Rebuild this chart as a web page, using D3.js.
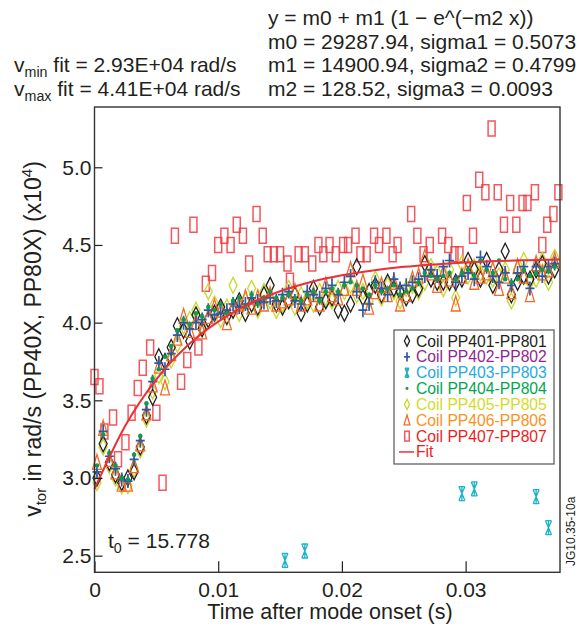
<!DOCTYPE html>
<html>
<head>
<meta charset="utf-8">
<script src="https://cdn.jsdelivr.net/npm/d3@7"></script>
<style>
  body { margin: 0; background: #fff; }
  text { font-family: "Liberation Sans", Arial, sans-serif; fill: #231f20; }
</style>
</head>
<body>
<div id="chart"></div>
<script>
// sample times shared by coils 401-406 (s)
var times = [0.0002,0.0007,0.0012,0.0017,0.0022,0.0027,0.0032,0.0037,0.0042,0.0047,
             0.0052,0.0057,0.0062,0.0067,0.0072,0.0077,0.0082,0.0087,0.0092,0.0097,
             0.0102,0.0107,0.0112,0.0117,0.0122,0.0127,0.0132,0.0137,0.0142,0.0147,
             0.0152,0.0157,0.0162,0.0167,0.0172,0.0177,0.0182,0.0187,0.0192,0.0197,
             0.0202,0.0207,0.0212,0.0217,0.0222,0.0227,0.0232,0.0237,0.0242,0.0247,
             0.0252,0.0257,0.0262,0.0267,0.0272,0.0277,0.0282,0.0287,0.0292,0.0297,
             0.0302,0.0307,0.0312,0.0317,0.0322,0.0327,0.0332,0.0337,0.0342,0.0347,
             0.0352,0.0357,0.0362,0.0367,0.0372];

// v_tor (x10^4 rad/s)
var coil401 = [3.00,3.22,3.10,3.02,2.97,3.00,3.04,3.20,3.40,3.52,3.78,3.75,3.84,3.98,3.95,3.88,4.05,3.96,4.02,4.06,
               4.10,4.04,4.08,4.14,4.06,4.12,4.10,4.18,4.24,4.12,4.10,4.14,4.18,4.06,4.12,4.22,4.10,4.14,4.16,4.08,
               4.06,4.12,4.36,4.16,4.20,4.24,4.18,4.26,4.22,4.20,4.16,4.18,4.22,4.38,4.28,4.26,4.26,4.26,4.26,4.28,
               4.40,4.34,4.28,4.40,4.24,4.34,4.46,4.18,4.26,4.30,4.28,4.34,4.38,4.30,4.34];
var coil402 = [3.04,3.30,3.14,3.06,2.99,2.98,3.12,3.24,3.44,3.62,3.74,3.70,3.80,3.92,4.00,3.96,4.00,4.02,4.08,4.05,
               4.06,4.08,4.12,4.10,4.12,4.16,4.14,4.13,4.16,4.14,4.18,4.20,4.14,4.12,4.20,4.18,4.16,4.22,4.24,4.18,
               4.26,4.30,4.20,4.08,4.12,4.26,4.22,4.18,4.28,4.22,4.24,4.26,4.28,4.30,4.34,4.30,4.36,4.40,4.26,4.30,
               4.32,4.28,4.42,4.36,4.30,4.26,4.32,4.24,4.32,4.36,4.22,4.36,4.30,4.36,4.38];
var coil404 = [3.08,3.28,3.16,3.08,3.00,2.99,3.15,3.27,3.48,3.64,3.70,3.78,3.85,3.95,4.02,3.99,4.06,4.04,4.10,4.08,
               4.12,4.06,4.14,4.16,4.10,4.18,4.12,4.16,4.20,4.16,4.16,4.18,4.16,4.14,4.18,4.20,4.14,4.20,4.22,4.20,
               4.24,4.26,4.24,4.22,4.18,4.24,4.20,4.22,4.24,4.18,4.20,4.22,4.26,4.32,4.30,4.28,4.30,4.32,4.28,4.32,
               4.34,4.30,4.40,4.34,4.32,4.40,4.28,4.26,4.28,4.34,4.30,4.32,4.34,4.33,4.36];
var coil405 = [2.97,3.20,3.08,3.00,2.95,2.95,3.06,3.18,3.38,3.56,3.66,3.62,3.76,3.86,3.98,4.02,4.08,3.98,4.20,4.12,
               4.02,4.10,4.24,4.06,4.14,4.22,4.08,4.20,4.14,4.08,4.12,4.22,4.10,4.18,4.14,4.12,4.20,4.16,4.14,4.22,
               4.20,4.24,4.18,4.20,4.14,4.28,4.16,4.24,4.20,4.14,4.22,4.24,4.20,4.26,4.36,4.32,4.22,4.34,4.16,4.38,
               4.30,4.36,4.32,4.30,4.28,4.30,4.34,4.14,4.34,4.40,4.26,4.28,4.40,4.26,4.42];
var coil406 = [3.10,3.32,3.12,3.04,2.96,2.96,3.08,3.22,3.42,3.60,3.72,3.58,3.80,3.90,4.04,3.95,4.00,3.94,4.04,4.10,
               4.08,4.00,4.10,4.12,4.16,4.10,4.16,4.12,4.18,4.12,4.14,4.16,4.20,4.12,4.16,4.18,4.12,4.24,4.18,4.16,
               4.22,4.34,4.22,4.26,4.10,4.20,4.24,4.18,4.26,4.12,4.18,4.28,4.30,4.42,4.32,4.24,4.32,4.28,4.12,4.30,
               4.36,4.26,4.30,4.32,4.34,4.22,4.30,4.20,4.36,4.30,4.18,4.38,4.32,4.34,4.40];

// coil 403 mostly falls below the axis, only these are visible
var coil403Times  = [0.0154,0.0170,0.0297,0.0307,0.0357,0.0367];
var coil403Values = [2.47,2.53,2.90,2.93,2.88,2.68];

var coil407Times = [0.0000,0.0004,0.0008,0.0015,0.0019,0.0025,0.0030,0.0035,0.0039,0.0045,
                    0.0050,0.0055,0.0065,0.0070,0.0075,0.0080,0.0084,0.0090,0.0095,0.0100,
                    0.0105,0.0110,0.0115,0.0120,0.0125,0.0131,0.0136,0.0140,0.0145,0.0150,
                    0.0156,0.0158,0.0165,0.0170,0.0176,0.0181,0.0185,0.0190,0.0195,0.0201,
                    0.0205,0.0211,0.0215,0.0220,0.0226,0.0230,0.0236,0.0241,0.0245,0.0256,
                    0.0261,0.0266,0.0271,0.0281,0.0286,0.0291,0.0295,0.0301,0.0306,0.0311,
                    0.0316,0.0321,0.0326,0.0331,0.0336,0.0341,0.0346,0.0350,0.0356,0.0362,
                    0.0366,0.0371,0.0375];
var coil407Values = [3.65,3.59,3.30,3.39,3.12,3.23,3.42,3.58,3.71,3.84,
                     3.42,2.97,4.56,3.62,3.76,4.63,3.84,4.25,4.32,4.50,
                     4.56,4.50,4.63,4.56,4.38,4.70,4.56,4.44,4.44,4.44,
                     4.38,4.27,4.44,4.44,4.38,4.50,4.44,4.50,4.44,4.50,
                     4.50,4.56,4.44,4.44,4.56,4.50,4.56,4.44,4.50,4.70,
                     4.56,4.44,4.50,4.56,4.50,4.44,4.44,4.77,4.56,4.92,
                     4.84,5.25,4.84,4.63,4.77,4.63,4.77,4.77,4.84,4.50,
                     4.63,4.70,4.84];

// fit curve read along its length
var fitTimes  = [0,0.0025,0.005,0.0075,0.01,0.0125,0.015,0.0175,0.02,0.0225,0.025,0.0275,0.03,0.0325,0.035,0.0376];
var fitValues = [2.929,3.338,3.635,3.851,4.007,4.120,4.202,4.262,4.305,4.336,4.359,4.375,4.387,4.396,4.402,4.407];

var xTicks = [0, 0.01, 0.02, 0.03];
var yTicks = [2.5, 3.0, 3.5, 4.0, 4.5, 5.0];

var legendNames = ["Coil PP401-PP801","Coil PP402-PP802","Coil PP403-PP803","Coil PP404-PP804",
                   "Coil PP405-PP805","Coil PP406-PP806","Coil PP407-PP807","Fit"];

var W = 579, H = 628;
var plot = {left: 94.5, right: 560, top: 107, bottom: 572.3};

var svg = d3.select("#chart").append("svg")
    .attr("width", W)
    .attr("height", H);

var x = d3.scaleLinear().domain([0, 0.03763]).range([plot.left, plot.right]);
var y = d3.scaleLinear().domain([2.393, 5.388]).range([plot.bottom, plot.top]);

// series table (legend order)
var series = [
  {name: legendNames[0], t: times, v: coil401, shape: "diamond",  color: "#231f20", text: "#231f20", z: 2},
  {name: legendNames[1], t: times, v: coil402, shape: "plus",     color: "#2b5ba8", text: "#92278f", z: 4},
  {name: legendNames[2], t: coil403Times, v: coil403Values, shape: "star", color: "#1cb2c9", text: "#27aae1", z: 5},
  {name: legendNames[3], t: times, v: coil404, shape: "dot",      color: "#0f9a4c", text: "#00a651", z: 6},
  {name: legendNames[4], t: times, v: coil405, shape: "diamond",  color: "#c9d82c", text: "#d2dc2a", z: 1},
  {name: legendNames[5], t: times, v: coil406, shape: "triangle", color: "#f26b2b", text: "#f7941d", z: 3},
  {name: legendNames[6], t: coil407Times, v: coil407Values, shape: "rect", color: "#ee3a3f", text: "#ed1c24", z: 0}
];

function markerPath(shape, k) {
  if (shape === "diamond")  return "M0," + (-8*k) + "L" + (4*k) + ",0L0," + (8*k) + "L" + (-4*k) + ",0Z";
  if (shape === "plus")     return "M" + (-4.5*k) + ",0H" + (4.5*k) + "M0," + (-7*k) + "V" + (7*k);
  if (shape === "triangle") return "M0," + (-8*k) + "L" + (4.5*k) + "," + (7*k) + "L" + (-4.5*k) + "," + (7*k) + "Z";
  if (shape === "rect")     return "M" + (-3.5*k) + "," + (-7.5*k) + "h" + (7*k) + "v" + (15*k) + "h" + (-7*k) + "Z";
  if (shape === "star")     return "M" + (-3*k) + "," + (-7*k) + "H" + (3*k) + "M" + (-3*k) + "," + (7*k) + "H" + (3*k) +
                                   "M" + (-3*k) + "," + (-7*k) + "L" + (3*k) + "," + (7*k) +
                                   "M" + (3*k) + "," + (-7*k) + "L" + (-3*k) + "," + (7*k) +
                                   "M0," + (-7*k) + "V" + (7*k);
  return "";
}

function drawMarker(g, shape, color, k) {
  if (shape === "dot") {
    g.append("circle").attr("r", 2.3 * k).attr("fill", color);
  } else {
    g.append("path")
      .attr("d", markerPath(shape, k))
      .attr("fill", "none")
      .attr("stroke", color)
      .attr("stroke-width", shape === "rect" ? 1.5 : (shape === "plus" ? 1.7 : 1.3))
      .attr("stroke-opacity", shape === "rect" ? 0.85 : 1);
  }
}

// points, drawn back to front
series.slice().sort(function(a, b) { return a.z - b.z; }).forEach(function(s) {
  var pts = s.t.map(function(t, i) { return [t, s.v[i]]; });
  svg.append("g").selectAll("g")
    .data(pts)
    .enter().append("g")
      .attr("transform", function(d) { return "translate(" + x(d[0]) + "," + y(d[1]) + ")"; })
      .each(function() { drawMarker(d3.select(this), s.shape, s.color, 1); });
});

// fit line
svg.append("path")
    .datum(fitTimes.map(function(t, i) { return [t, fitValues[i]]; }))
    .attr("fill", "none")
    .attr("stroke", "#ee2d35")
    .attr("stroke-width", 2)
    .attr("d", d3.line()
      .curve(d3.curveMonotoneX)
      .x(function(d) { return x(d[0]); })
      .y(function(d) { return y(d[1]); }));

// axes
var xAxis = svg.append("g")
    .attr("transform", "translate(0," + plot.bottom + ")")
    .call(d3.axisBottom(x).tickValues(xTicks).tickSizeInner(-11).tickSizeOuter(0).tickPadding(10)
      .tickFormat(function(d) { return d === 0 ? "0" : d.toFixed(2); }));
var yAxis = svg.append("g")
    .attr("transform", "translate(" + plot.left + ",0)")
    .call(d3.axisLeft(y).tickValues(yTicks).tickSizeInner(-8).tickSizeOuter(0).tickPadding(3)
      .tickFormat(d3.format(".1f")));
[xAxis, yAxis].forEach(function(a) {
  a.select(".domain").remove();
  a.selectAll(".tick line").attr("stroke", "#231f20").attr("stroke-width", 1.2);
  a.selectAll(".tick text")
    .attr("font-family", "Liberation Sans, Arial, sans-serif")
    .attr("font-size", 21)
    .attr("fill", "#231f20");
});

// frame
svg.append("rect")
    .attr("x", plot.left).attr("y", plot.top)
    .attr("width", plot.right - plot.left).attr("height", plot.bottom - plot.top)
    .attr("fill", "none").attr("stroke", "#333").attr("stroke-width", 1.4);

// axis titles
svg.append("text")
    .attr("x", 330)
    .attr("y", 619)
    .attr("text-anchor", "middle")
    .style("font-size", "21.5px")
    .text("Time after mode onset (s)");

var yl = svg.append("text")
    .attr("transform", "rotate(-90)")
    .attr("x", -339)
    .attr("y", 41)
    .attr("text-anchor", "middle")
    .style("font-size", "23px");
yl.append("tspan").text("v");
yl.append("tspan").attr("dy", 5).style("font-size", "15px").text("tor");
yl.append("tspan").attr("dy", -5).text(" in rad/s (PP40X, PP80X) (x10");
yl.append("tspan").attr("dy", -9).style("font-size", "15px").text("4");
yl.append("tspan").attr("dy", 9).text(")");

// header text
var header = ["y = m0 + m1 (1 \u2212 e^(\u2212m2 x))",
              "m0 = 29287.94, sigma1 = 0.5073",
              "m1 = 14900.94, sigma2 = 0.4799",
              "m2 = 128.52, sigma3 = 0.0093"];
header.forEach(function(h, i) {
  svg.append("text").attr("x", 268).attr("y", 25 + i * 23.7)
    .style("font-size", "21px").text(h);
});

function subText(xp, yp, main, sub, rest, size) {
  var t = svg.append("text").attr("x", xp).attr("y", yp).style("font-size", size + "px");
  t.append("tspan").text(main);
  t.append("tspan").attr("dy", 5).style("font-size", (size * 0.68) + "px").text(sub);
  t.append("tspan").attr("dy", -5).text(rest);
}
subText(14, 72.4, "v", "min", " fit = 2.93E+04 rad/s", 21);
subText(14, 96.1, "v", "max", " fit = 4.41E+04 rad/s", 21);
subText(108, 548, "t", "0", " = 15.778", 21);

// legend
var lg = svg.append("g");
lg.append("rect")
    .attr("x", 394).attr("y", 330).attr("width", 160).attr("height", 134)
    .attr("fill", "#fff").attr("stroke", "#555").attr("stroke-width", 1.2);
series.forEach(function(s, i) {
  var cy = 341 + i * 15.85;
  var m = lg.append("g").attr("transform", "translate(407," + cy + ")");
  drawMarker(m, s.shape, s.color, 0.65);
  lg.append("text").attr("x", 416).attr("y", cy + 5.5)
    .style("font-size", "15.7px").style("fill", s.text).text(s.name);
});
var fy = 341 + 7 * 15.85;
lg.append("line").attr("x1", 399).attr("x2", 414).attr("y1", fy).attr("y2", fy)
    .attr("stroke", "#ee2d35").attr("stroke-width", 1.5);
lg.append("text").attr("x", 416).attr("y", fy + 5.5)
    .style("font-size", "15.7px").style("fill", "#ed1c24").text(legendNames[7]);

// figure id
svg.append("text")
    .attr("transform", "rotate(-90)")
    .attr("x", -566).attr("y", 575)
    .style("font-size", "12px")
    .text("JG10.35-10a");
</script>
</body>
</html>
